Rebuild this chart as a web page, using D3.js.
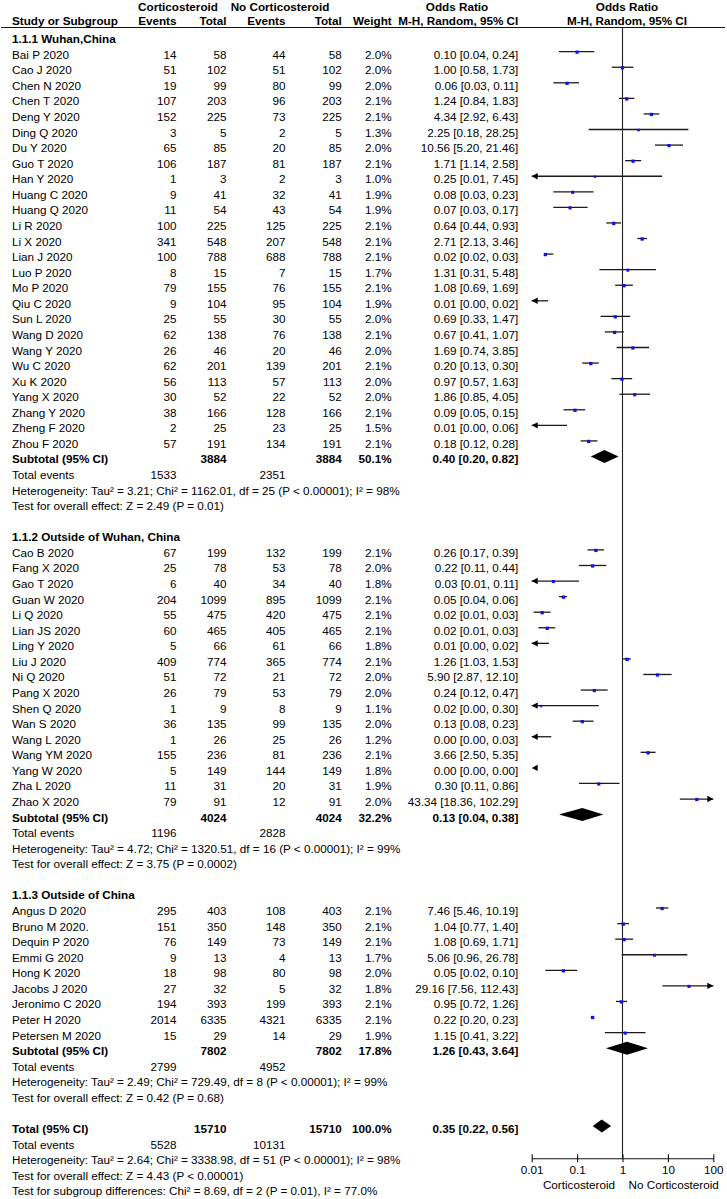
<!DOCTYPE html>
<html><head><meta charset="utf-8">
<script src="https://cdn.jsdelivr.net/npm/d3@7"></script>
<style>
html,body{margin:0;padding:0;background:#fff;}
svg{display:block;font-family:"Liberation Sans",Arial,sans-serif;}
</style></head>
<body><svg id="c" width="727" height="1199"></svg>
<script>
// ---------- DATA ----------
const groupNames = ["1.1.1 Wuhan,China", "1.1.2 Outside of Wuhan, China", "1.1.3 Outside of China"];
const studyNames = [
  ["Bai P 2020","Cao J 2020","Chen N 2020","Chen T 2020","Deng Y 2020","Ding Q 2020","Du Y 2020","Guo T 2020","Han Y 2020","Huang C 2020","Huang Q 2020","Li R 2020","Li X 2020","Lian J 2020","Luo P 2020","Mo P 2020","Qiu C 2020","Sun L 2020","Wang D 2020","Wang Y 2020","Wu C 2020","Xu K 2020","Yang X 2020","Zhang Y 2020","Zheng F 2020","Zhou F 2020"],
  ["Cao B 2020","Fang X 2020","Gao T 2020","Guan W 2020","Li Q 2020","Lian JS 2020","Ling Y 2020","Liu J 2020","Ni Q 2020","Pang X 2020","Shen Q 2020","Wan S 2020","Wang L 2020","Wang YM 2020","Yang W 2020","Zha L 2020","Zhao X 2020"],
  ["Angus D 2020","Bruno M 2020.","Dequin P 2020","Emmi G 2020","Hong K 2020","Jacobs J 2020","Jeronimo C 2020","Peter H 2020","Petersen M 2020"]
];
const eventsCS = [
  [14,51,19,107,152,3,65,106,1,9,11,100,341,100,8,79,9,25,62,26,62,56,30,38,2,57],
  [67,25,6,204,55,60,5,409,51,26,1,36,1,155,5,11,79],
  [295,151,76,9,18,27,194,2014,15]
];
const totalCS = [
  [58,102,99,203,225,5,85,187,3,41,54,225,548,788,15,155,104,55,138,46,201,113,52,166,25,191],
  [199,78,40,1099,475,465,66,774,72,79,9,135,26,236,149,31,91],
  [403,350,149,13,98,32,393,6335,29]
];
const eventsNo = [
  [44,51,80,96,73,2,20,81,2,32,43,125,207,688,7,76,95,30,76,20,139,57,22,128,23,134],
  [132,53,34,895,420,405,61,365,21,53,8,99,25,81,144,20,12],
  [108,148,73,4,80,5,199,4321,14]
];
const totalNo = [
  [58,102,99,203,225,5,85,187,3,41,54,225,548,788,15,155,104,55,138,46,201,113,52,166,25,191],
  [199,78,40,1099,475,465,66,774,72,79,9,135,26,236,149,31,91],
  [403,350,149,13,98,32,393,6335,29]
];
const weights = [
  [2.0,2.0,2.0,2.1,2.1,1.3,2.0,2.1,1.0,1.9,1.9,2.1,2.1,2.1,1.7,2.1,1.9,2.0,2.1,2.0,2.1,2.0,2.0,2.1,1.5,2.1],
  [2.1,2.0,1.8,2.1,2.1,2.1,1.8,2.1,2.0,2.0,1.1,2.0,1.2,2.1,1.8,1.9,2.0],
  [2.1,2.1,2.1,1.7,2.0,1.8,2.1,2.1,1.9]
];
// odds ratios and CI bounds (values below 0.01 estimated from the plot; shown rounded to 2 decimals)
const oddsRatio = [
  [0.10,1.00,0.06,1.24,4.34,2.25,10.56,1.71,0.25,0.08,0.07,0.64,2.71,0.02,1.31,1.08,0.008,0.69,0.67,1.69,0.20,0.97,1.86,0.09,0.008,0.18],
  [0.26,0.22,0.03,0.05,0.017,0.022,0.007,1.26,5.90,0.24,0.016,0.13,0.004,3.66,0.001,0.30,43.34],
  [7.46,1.04,1.08,5.06,0.05,29.16,0.95,0.22,1.15]
];
const ciLow = [
  [0.04,0.58,0.03,0.84,2.92,0.18,5.20,1.14,0.008,0.03,0.03,0.44,2.13,0.02,0.31,0.69,0.001,0.33,0.41,0.74,0.13,0.57,0.85,0.05,0.001,0.12],
  [0.17,0.11,0.008,0.04,0.011,0.014,0.001,1.03,2.87,0.12,0.001,0.08,0.001,2.50,0.001,0.11,18.36],
  [5.46,0.77,0.69,0.96,0.02,7.56,0.72,0.20,0.41]
];
const ciHigh = [
  [0.24,1.73,0.11,1.83,6.43,28.25,21.46,2.58,7.45,0.23,0.17,0.93,3.46,0.03,5.48,1.69,0.023,1.47,1.07,3.85,0.30,1.63,4.05,0.15,0.06,0.28],
  [0.39,0.44,0.11,0.06,0.026,0.033,0.024,1.53,12.10,0.47,0.30,0.23,0.027,5.35,0.001,0.86,102.29],
  [10.19,1.40,1.71,26.78,0.10,112.43,1.26,0.23,3.22]
];
const subEventsCS = [1533,1196,2799];
const subEventsNo = [2351,2828,4952];
const subTotalCS = [3884,4024,7802];
const subTotalNo = [3884,4024,7802];
const subWeight = [50.1,32.2,17.8];
const subOR = [0.40,0.13,1.26];
const subLow = [0.20,0.04,0.43];
const subHigh = [0.82,0.38,3.64];
const subHetero = [
  "Heterogeneity: Tau² = 3.21; Chi² = 1162.01, df = 25 (P < 0.00001); I² = 98%",
  "Heterogeneity: Tau² = 4.72; Chi² = 1320.51, df = 16 (P < 0.00001); I² = 99%",
  "Heterogeneity: Tau² = 2.49; Chi² = 729.49, df = 8 (P < 0.00001); I² = 99%"
];
const subEffect = [
  "Test for overall effect: Z = 2.49 (P = 0.01)",
  "Test for overall effect: Z = 3.75 (P = 0.0002)",
  "Test for overall effect: Z = 0.42 (P = 0.68)"
];
const overallTotals = [15710, 15710];
const overallEvents = [5528, 10131];
const overallWeight = 100.0;
const overallOR = [0.35, 0.22, 0.56];
const overallTexts = [
  "Heterogeneity: Tau² = 2.64; Chi² = 3338.98, df = 51 (P < 0.00001); I² = 98%",
  "Test for overall effect: Z = 4.43 (P < 0.00001)",
  "Test for subgroup differences: Chi² = 8.69, df = 2 (P = 0.01), I² = 77.0%"
];
const axisTicks = [0.01, 0.1, 1, 10, 100];
const axisTickLabels = ["0.01", "0.1", "1", "10", "100"];
const favourLabels = ["Corticosteroid", "No Corticosteroid"];

// ---------- LAYOUT ----------
const svg = d3.select("#c");
const FS = 11.7;
const colX = {name: 12, evC: 176.5, totC: 226.5, evN: 285.5, totN: 341.7, w: 391.7, ci: 518.3};
const x = d3.scaleLog().domain([0.01, 100]).range([531.7, 713.3]);
const xMin = x(0.01), xMax = x(100);

// build row list
const rows = [];
groupNames.forEach((g, gi) => {
  rows.push({type: "heading", text: g});
  studyNames[gi].forEach((s, si) => rows.push({type: "study", g: gi, i: si}));
  rows.push({type: "subtotal", g: gi});
  rows.push({type: "subevents", g: gi});
  rows.push({type: "text", text: subHetero[gi]});
  rows.push({type: "text", text: subEffect[gi]});
  rows.push({type: "blank"});
});
rows.push({type: "total"});
rows.push({type: "totevents"});
overallTexts.forEach(t => rows.push({type: "text", text: t}));

const y = d3.scaleLinear().domain([0, rows.length - 1]).range([36.1, 36.1 + (rows.length - 1) * 15.57]);
const f2 = v => v.toFixed(2);
const ciText = (o, l, h) => `${f2(o)} [${f2(l)}, ${f2(h)}]`;
const size = d3.scaleSqrt().domain([0, 2.1]).range([0, 3.3]);

function txt(xp, yp, s, anchor = "start", bold = false) {
  svg.append("text").attr("x", xp).attr("y", yp).attr("text-anchor", anchor)
    .attr("font-size", FS).attr("font-weight", bold ? "bold" : "normal").attr("fill", "#000").text(s);
}

// header
const hb1 = 11, hb2 = 25.3;
txt(178, hb1, "Corticosteroid", "middle", true);
txt(280, hb1, "No Corticosteroid", "middle", true);
txt(457, hb1, "Odds Ratio", "middle", true);
txt(627, hb1, "Odds Ratio", "middle", true);
txt(colX.name, hb2, "Study or Subgroup", "start", true);
txt(colX.evC, hb2, "Events", "end", true);
txt(colX.totC, hb2, "Total", "end", true);
txt(colX.evN, hb2, "Events", "end", true);
txt(colX.totN, hb2, "Total", "end", true);
txt(colX.w, hb2, "Weight", "end", true);
txt(colX.ci, hb2, "M-H, Random, 95% CI", "end", true);
txt(627, hb2, "M-H, Random, 95% CI", "middle", true);
svg.append("line").attr("x1", 1).attr("x2", 725).attr("y1", 27.5).attr("y2", 27.5)
  .attr("stroke", "#111").attr("stroke-width", 1.2);

// axis baseline y
const axisY = 1158.3;
// vertical line of no effect
svg.append("line").attr("x1", x(1)).attr("x2", x(1)).attr("y1", 27.5).attr("y2", axisY)
  .attr("stroke", "#222").attr("stroke-width", 1.1);

const tb = 7; // baseline offset from row centre
const plot = svg.append("g");

function diamond(yc, o, l, h) {
  const hh = 6.5;
  plot.append("polygon")
    .attr("points", [[x(l), yc], [x(o), yc - hh], [x(h), yc], [x(o), yc + hh]].map(p => p.join(",")).join(" "))
    .attr("fill", "#000");
}

rows.forEach((r, ri) => {
  const yc = y(ri), yb = yc + tb;
  if (r.type === "heading") txt(colX.name, yb, r.text, "start", true);
  else if (r.type === "text") txt(colX.name, yb, r.text);
  else if (r.type === "study") {
    const g = r.g, i = r.i;
    txt(colX.name, yb, studyNames[g][i]);
    txt(colX.evC, yb, eventsCS[g][i], "end");
    txt(colX.totC, yb, totalCS[g][i], "end");
    txt(colX.evN, yb, eventsNo[g][i], "end");
    txt(colX.totN, yb, totalNo[g][i], "end");
    txt(colX.w, yb, weights[g][i].toFixed(1) + "%", "end");
    txt(colX.ci, yb, ciText(oddsRatio[g][i], ciLow[g][i], ciHigh[g][i]), "end");
    const lo = ciLow[g][i], hi = ciHigh[g][i], o = oddsRatio[g][i];
    const x1 = Math.max(xMin, Math.min(xMax, x(lo))), x2 = Math.max(xMin, Math.min(xMax, x(hi)));
    if (x2 > x1) plot.append("line").attr("x1", x1).attr("x2", x2).attr("y1", yc).attr("y2", yc)
      .attr("stroke", "#1a1a1a").attr("stroke-width", 1.3);
    if (lo < 0.01) plot.append("polygon")
      .attr("points", `${xMin},${yc} ${xMin + 6},${yc - 3.2} ${xMin + 6},${yc + 3.2}`).attr("fill", "#000");
    if (hi > 100) plot.append("polygon")
      .attr("points", `${xMax},${yc} ${xMax - 6},${yc - 3.2} ${xMax - 6},${yc + 3.2}`).attr("fill", "#000");
    if (o >= 0.01 && o <= 100) {
      const s = size(weights[g][i]);
      plot.append("rect").attr("x", x(o) - s / 2).attr("y", yc - s / 2 + 0.5).attr("width", s).attr("height", s)
        .attr("fill", "#1010ee");
    }
  } else if (r.type === "subtotal") {
    const g = r.g;
    txt(colX.name, yb, "Subtotal (95% CI)", "start", true);
    txt(colX.totC, yb, subTotalCS[g], "end", true);
    txt(colX.totN, yb, subTotalNo[g], "end", true);
    txt(colX.w, yb, subWeight[g].toFixed(1) + "%", "end", true);
    txt(colX.ci, yb, ciText(subOR[g], subLow[g], subHigh[g]), "end", true);
    diamond(yc, subOR[g], subLow[g], subHigh[g]);
  } else if (r.type === "subevents") {
    const g = r.g;
    txt(colX.name, yb, "Total events");
    txt(colX.evC, yb, subEventsCS[g], "end");
    txt(colX.evN, yb, subEventsNo[g], "end");
  } else if (r.type === "total") {
    txt(colX.name, yb, "Total (95% CI)", "start", true);
    txt(colX.totC, yb, overallTotals[0], "end", true);
    txt(colX.totN, yb, overallTotals[1], "end", true);
    txt(colX.w, yb, overallWeight.toFixed(1) + "%", "end", true);
    txt(colX.ci, yb, ciText(overallOR[0], overallOR[1], overallOR[2]), "end", true);
    diamond(yc, overallOR[0], overallOR[1], overallOR[2]);
  } else if (r.type === "totevents") {
    txt(colX.name, yb, "Total events");
    txt(colX.evC, yb, overallEvents[0], "end");
    txt(colX.evN, yb, overallEvents[1], "end");
  }
});

// bottom axis
const axis = d3.axisBottom(x).tickValues(axisTicks).tickFormat((d, i) => axisTickLabels[i])
  .tickSizeInner(4).tickSizeOuter(0);
const ag = svg.append("g").attr("transform", `translate(0,${axisY})`).call(axis);
ag.select(".domain").attr("stroke", "#111").attr("stroke-width", 1.1);
ag.selectAll(".tick line").attr("y1", -4).attr("stroke", "#111").attr("stroke-width", 1.1);
ag.selectAll(".tick text").attr("font-size", FS).attr("font-family", "'Liberation Sans',Arial,sans-serif")
  .attr("fill", "#000").attr("y", 7).attr("dy", "0.71em");
txt(x(1) - 7.5, 1188.8, favourLabels[0], "end");
txt(x(1) + 6, 1188.8, favourLabels[1], "start");
</script></body></html>
